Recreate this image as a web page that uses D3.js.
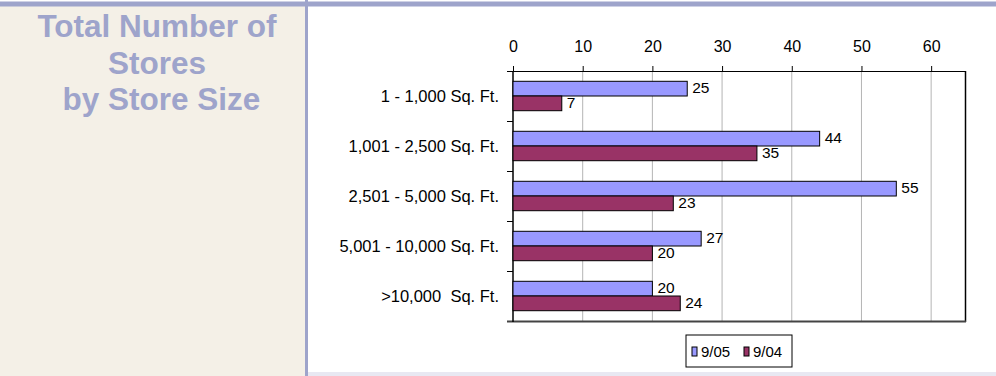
<!DOCTYPE html>
<html>
<head>
<meta charset="utf-8">
<script src="https://cdn.jsdelivr.net/npm/d3@7"></script>
<style>
  html, body { margin: 0; padding: 0; background: #fff; }
  svg { display: block; font-family: "Liberation Sans", Arial, sans-serif; }
</style>
</head>
<body>
<div id="chart"></div>
<script>
// chart data
var categories = ["1 - 1,000 Sq. Ft.", "1,001 - 2,500 Sq. Ft.", "2,501 - 5,000 Sq. Ft.", "5,001 - 10,000 Sq. Ft.", ">10,000  Sq. Ft."];
var seriesNames = ["9/05", "9/04"];
var values0905 = [25, 44, 55, 27, 20];
var values0904 = [7, 35, 23, 20, 24];
var xTicks = [0, 10, 20, 30, 40, 50, 60];
var titleLines = ["Total Number of", "Stores", "\u00a0by Store Size"];

var W = 996, H = 376;
var accent = "#9ea4cb";
var colors = {"9/05": "#9999ff", "9/04": "#993366"};

var svg = d3.select("#chart").append("svg")
  .attr("width", W)
  .attr("height", H);

// page frame
svg.append("rect").attr("x", 0).attr("y", 6).attr("width", 306).attr("height", H - 6).attr("fill", "#f4f0e7");
svg.append("rect").attr("x", 0).attr("y", 1.5).attr("width", W).attr("height", 5).attr("fill", accent);
svg.append("rect").attr("x", 305).attr("y", 0).attr("width", 3).attr("height", H).attr("fill", accent);
svg.append("rect").attr("x", 308).attr("y", 372).attr("width", W - 308).attr("height", 4).attr("fill", "#e8e8f2");

// title
svg.append("g").selectAll("text")
  .data(titleLines)
  .enter().append("text")
  .attr("x", 157)
  .attr("y", function(d, i) { return 37 + i * 36.5; })
  .attr("text-anchor", "middle")
  .style("font-size", "31.5px")
  .style("font-weight", "bold")
  .style("fill", accent)
  .text(function(d) { return d; });

// scales
var x = d3.scaleLinear().domain([0, 65]).range([513, 966]);
var y = d3.scaleBand().domain(categories).range([71, 321]).paddingInner(0).paddingOuter(0);
var ySub = d3.scaleBand().domain(seriesNames).range([0, y.bandwidth()]).paddingOuter(0.7);

var rows = categories.map(function(c, i) {
  return {cat: c, vals: [{s: "9/05", v: values0905[i]}, {s: "9/04", v: values0904[i]}]};
});

// gridlines
svg.append("g").selectAll("line")
  .data(xTicks.slice(1))
  .enter().append("line")
  .attr("x1", function(d) { return x(d); })
  .attr("x2", function(d) { return x(d); })
  .attr("y1", 71).attr("y2", 321)
  .attr("stroke", "#b4b4b4");

// top axis
var xAxis = d3.axisTop(x).tickValues(xTicks).tickSize(5).tickPadding(14);
var gx = svg.append("g").attr("transform", "translate(0,71)").call(xAxis);
gx.select(".domain").remove();
gx.selectAll("line").attr("stroke", "#000");
gx.selectAll("text").style("font-size", "16px").style("font-family", "Liberation Sans, Arial, sans-serif").attr("fill", "#000");

// plot border
svg.append("line").attr("x1", 507).attr("x2", 966).attr("y1", 71.5).attr("y2", 71.5).attr("stroke", "#000");
svg.append("line").attr("x1", 965.5).attr("x2", 965.5).attr("y1", 71).attr("y2", 322).attr("stroke", "#000").attr("stroke-width", 1.5);
svg.append("line").attr("x1", 507).attr("x2", 966).attr("y1", 321.5).attr("y2", 321.5).attr("stroke", "#444").attr("stroke-width", 2);
svg.append("line").attr("x1", 513).attr("x2", 513).attr("y1", 71).attr("y2", 322).attr("stroke", "#000").attr("stroke-width", 1.5);

// category ticks
svg.append("g").selectAll("line")
  .data(categories.slice(1))
  .enter().append("line")
  .attr("x1", 507).attr("x2", 513)
  .attr("y1", function(d) { return y(d) + 0.5; })
  .attr("y2", function(d) { return y(d) + 0.5; })
  .attr("stroke", "#000");

// category labels
svg.append("g").selectAll("text")
  .data(categories)
  .enter().append("text")
  .attr("x", 499)
  .attr("y", function(d) { return y(d) + y.bandwidth() / 2; })
  .attr("dy", "0.35em")
  .attr("text-anchor", "end")
  .style("font-size", "16.5px")
  .style("white-space", "pre")
  .text(function(d) { return d; });

// bars
var groups = svg.append("g").selectAll("g")
  .data(rows)
  .enter().append("g")
  .attr("transform", function(d) { return "translate(0," + y(d.cat) + ")"; });

groups.selectAll("rect")
  .data(function(d) { return d.vals; })
  .enter().append("rect")
  .attr("x", x(0))
  .attr("y", function(d) { return ySub(d.s); })
  .attr("width", function(d) { return x(d.v) - x(0); })
  .attr("height", ySub.bandwidth())
  .attr("fill", function(d) { return colors[d.s]; })
  .attr("stroke", "#000")
  .attr("stroke-width", 1);

groups.selectAll("text")
  .data(function(d) { return d.vals; })
  .enter().append("text")
  .attr("x", function(d) { return x(d.v) + 5; })
  .attr("y", function(d) { return ySub(d.s) + ySub.bandwidth() / 2 - 1; })
  .attr("dy", "0.35em")
  .style("font-size", "15.5px")
  .text(function(d) { return d.v; });

// legend
var legend = svg.append("g").attr("transform", "translate(686,335)");
legend.append("rect").attr("width", 106).attr("height", 32).attr("fill", "#fff").attr("stroke", "#000");
var items = legend.selectAll(".item")
  .data(seriesNames)
  .enter().append("g")
  .attr("class", "item")
  .attr("transform", function(d, i) { return "translate(" + (6 + i * 52) + ",0)"; });
items.append("rect")
  .attr("x", 0).attr("y", 12).attr("width", 5).attr("height", 9)
  .attr("fill", function(d) { return colors[d]; })
  .attr("stroke", "#000");
items.append("text")
  .attr("x", 9).attr("y", 16.5)
  .attr("dy", "0.35em")
  .style("font-size", "15px")
  .text(function(d) { return d; });
</script>
</body>
</html>
